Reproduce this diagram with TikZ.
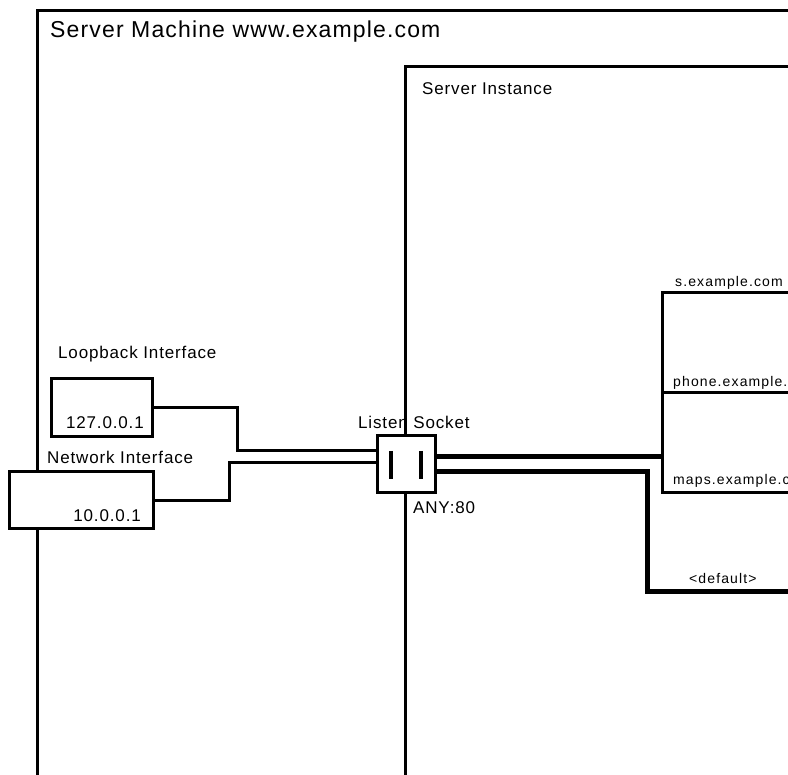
\documentclass[tikz,border=0pt]{standalone}
\usepackage{fontspec}
\setmainfont{Liberation Sans}[LetterSpace=5]
\usetikzlibrary{positioning}

\begin{document}
\begin{tikzpicture}[x=1pt,y=-1pt,
 frame/.style={draw,line width=3pt,outer sep=0pt,inner sep=0pt,anchor=north west},
 iface/.style={draw,fill=white,line width=3pt,outer sep=0pt,inner sep=0pt},
 lbl/.style={inner sep=0pt,anchor=base west,font=\fontsize{17}{20}\selectfont},
 hostlbl/.style={inner sep=0pt,anchor=base west,font=\fontsize{14}{16}\selectfont\addfontfeature{LetterSpace=8}},
 wire/.style={line width=3pt},
 fatwire/.style={line width=5pt}]
 \useasboundingbox (0,0) rectangle (788,775);
 \clip (0,0) rectangle (788,775);
 % frames
 \node[frame,minimum width=800pt,minimum height=800pt] (machine) at (37,11) {};
 \node[frame,minimum width=500pt,minimum height=800pt] (instance) at (405,67) {};
 \node[lbl,font=\fontsize{23}{26}\selectfont] (machinelbl) at (50,38) {Server Machine www.example.com};
 \node[lbl] (instancelbl) at (422,95) {Server Instance};
 % virtual hosts
 \node[frame,minimum width=200pt,minimum height=100pt] (vh1) at (662,293) {};
 \node[frame,minimum width=200pt,minimum height=100pt] (vh2) at (662,393) {};
 \coordinate (dflt) at (800,592);
 % interfaces and socket
 \node[iface,minimum width=101pt,minimum height=58pt] (lo) at (101.5,408) {};
 \node[iface,minimum width=144pt,minimum height=57pt] (net) at (81,500.5) {};
 \node[iface,minimum width=58pt,minimum height=57pt] (sock) at (406,464.5) {};
 \draw[line width=4pt] (391,451) -- (391,479) (421,451) -- (421,479);
 \draw[wire] (lo.east) -| (237,451) -- (sock.west |- 0,451);
 \draw[wire] (net.east) -| (229,463) -- (sock.west |- 0,463);
 \draw[fatwire] (sock.east |- 0,457) -- (vh2.west |- 0,457);
 \draw[fatwire] (sock.east |- 0,472) -| (647,592) -- (dflt);
 % labels
 \node[lbl] (lolbl) at (58,359) {Loopback Interface};
 \node[lbl,anchor=base east] (loip) at (144,429) {127.0.0.1};
 \node[lbl] (netlbl) at (47,464) {Network Interface};
 \node[lbl,anchor=base east] (netip) at (141,522) {10.0.0.1};
 \node[lbl] (socklbl) at (358,429) {Listen Socket};
 \node[lbl] (sockaddr) at (413,514) {ANY:80};
 \node[hostlbl] (vh0lbl) at (675,287) {s.example.com};
 \node[hostlbl] (vh1lbl) at (673,387) {phone.example.com};
 \node[hostlbl] (vh2lbl) at (673,485) {maps.example.com};
 \node[hostlbl] (dfltlbl) at (689,584) {<default>};
\end{tikzpicture}
\end{document}
